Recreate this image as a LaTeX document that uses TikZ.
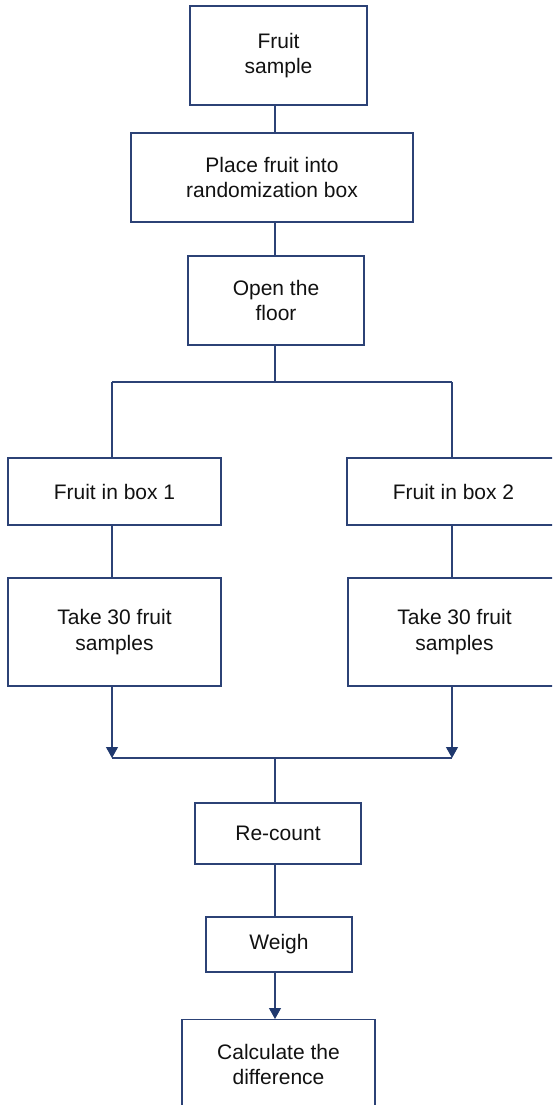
\documentclass[tikz,border=0pt]{standalone}
\usepackage{fontspec}
\setmainfont{Liberation Sans}
\usetikzlibrary{arrows.meta}
\definecolor{lc}{RGB}{44,66,118}
\definecolor{ac}{RGB}{31,56,110}
\tikzset{
  box/.style={draw=lc, line width=1.2pt, align=center, inner sep=0pt,
    font=\fontsize{21}{25.5}\selectfont, text={rgb,255:red,17;green,17;blue,17}},
  conn/.style={draw=lc, line width=1.2pt},
  arr/.style={conn, -{Triangle[width=12pt,length=11pt,color=ac]}}
}
\begin{document}
\begin{tikzpicture}[x=1pt,y=-1pt]
\useasboundingbox (0,0) rectangle (552,1105);
\clip (0,0) rectangle (552,1105);
% nodes
\node[box, minimum width=177, minimum height=99] (fs) at (278.5,55.5) {Fruit\\sample};
\node[box, minimum width=282, minimum height=89] (place) at (272,177.5) {Place fruit into\\randomization box};
\node[box, minimum width=176, minimum height=89] (open) at (276,300.5) {Open the\\floor};
\node[box, minimum width=213, minimum height=67] (b1) at (114.5,491.5) {Fruit in box 1};
\node[box, minimum width=213, minimum height=67] (b2) at (453.5,491.5) {Fruit in box 2};
\node[box, minimum width=213, minimum height=108] (t1) at (114.5,632) {Take 30 fruit\\samples};
\node[box, minimum width=213, minimum height=108] (t2) at (454.5,632) {Take 30 fruit\\samples};
\node[box, minimum width=166, minimum height=61] (rc) at (278,833.5) {Re-count};
\node[box, minimum width=146, minimum height=55] (wg) at (279,944.5) {Weigh};
\node[box, minimum width=193, minimum height=90, anchor=north] (calc) at (278.5,1019) {Calculate the\\difference};
% helper coordinates
\coordinate (sp) at (275,0);
\coordinate (lx) at (112,0);
\coordinate (rx) at (452,0);
\coordinate (j1) at (275,382);
\coordinate (j1l) at (112,382);
\coordinate (j1r) at (452,382);
\coordinate (j2) at (275,758);
\coordinate (j2l) at (112,758);
\coordinate (j2r) at (452,758);
% connectors
\draw[conn] (fs.south -| sp) -- (place.north -| sp);
\draw[conn] (place.south -| sp) -- (open.north -| sp);
\draw[conn] (open.south -| sp) -- (j1);
\draw[conn] (j1l) -- (j1r);
\draw[conn] (j1l) -- (b1.north -| lx);
\draw[conn] (j1r) -- (b2.north -| rx);
\draw[conn] (b1.south -| lx) -- (t1.north -| lx);
\draw[conn] (b2.south -| rx) -- (t2.north -| rx);
\draw[arr] (t1.south -| lx) -- (j2l);
\draw[arr] (t2.south -| rx) -- (j2r);
\draw[conn] (j2l) -- (j2r);
\draw[conn] (j2) -- (rc.north -| sp);
\draw[conn] (rc.south -| sp) -- (wg.north -| sp);
\draw[arr] (wg.south -| sp) -- (calc.north -| sp);
\end{tikzpicture}
\end{document}
